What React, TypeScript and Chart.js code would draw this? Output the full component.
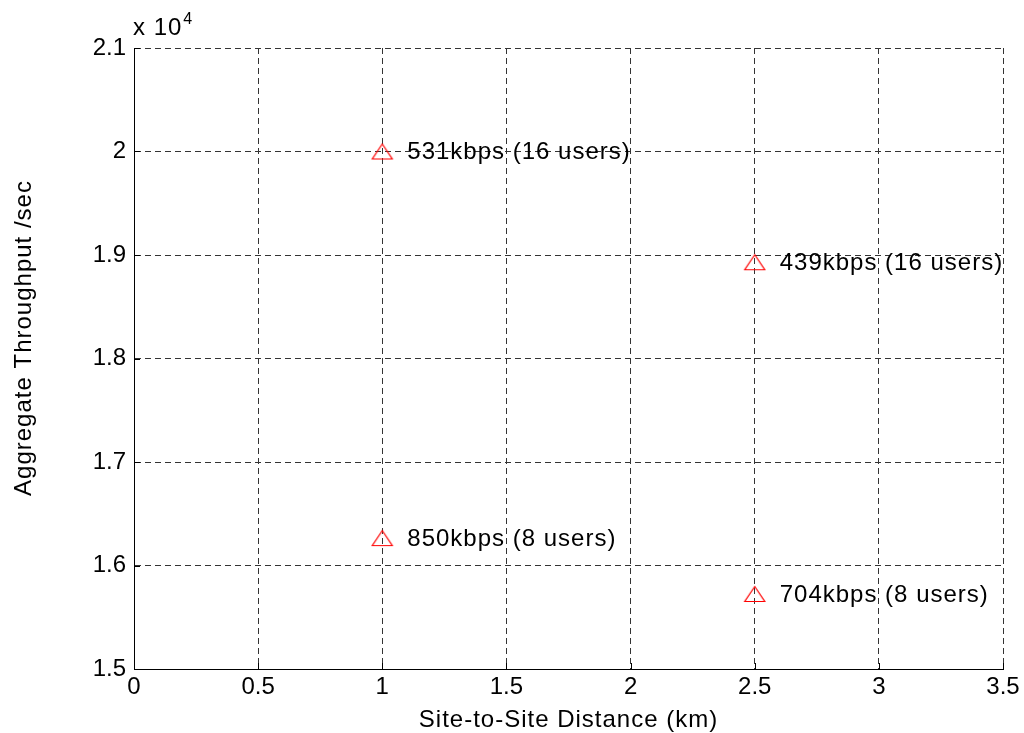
import React, { useEffect, useRef } from "react";
import { Chart, registerables } from "chart.js";

Chart.register(...registerables);

const xValues = [1, 2.5, 1, 2.5];
const yValues = [20000, 18930, 16265, 15725];
const pointLabels = [
  "531kbps (16 users)",
  "439kbps (16 users)",
  "850kbps (8 users)",
  "704kbps (8 users)",
];
const xTitle = "Site-to-Site Distance (km)";
const yTitle = "Aggregate Throughput /sec";
const FONT = '"Liberation Sans", Arial, sans-serif';

function makeTriangle(): HTMLCanvasElement {
  const c = document.createElement("canvas");
  c.width = 24;
  c.height = 18;
  const g = c.getContext("2d")!;
  g.strokeStyle = "#ff0000";
  g.lineWidth = 1.2;
  g.beginPath();
  g.moveTo(12, 1.5);
  g.lineTo(22, 16.5);
  g.lineTo(2, 16.5);
  g.closePath();
  g.stroke();
  return c;
}

const decorPlugin = {
  id: "decor",
  afterDatasetsDraw(chart: any) {
    const ctx = chart.ctx;
    const xs = chart.scales.x;
    const ys = chart.scales.y;
    const area = chart.chartArea;
    ctx.save();
    ctx.strokeStyle = "#000";
    ctx.lineWidth = 1;
    ctx.setLineDash([]);
    ys.ticks.forEach((t: any) => {
      const py = Math.round(ys.getPixelForValue(t.value)) + 0.5;
      ctx.beginPath();
      ctx.moveTo(area.left, py);
      ctx.lineTo(area.left + 6, py);
      ctx.stroke();
    });
    xs.ticks.forEach((t: any) => {
      const px = Math.round(xs.getPixelForValue(t.value)) + 0.5;
      ctx.beginPath();
      ctx.moveTo(px, area.bottom);
      ctx.lineTo(px, area.bottom - 6);
      ctx.stroke();
    });
    ctx.fillStyle = "#000";
    ctx.font = `24px ${FONT}`;
    (ctx as any).letterSpacing = "1px";
    ctx.textAlign = "left";
    ctx.textBaseline = "middle";
    pointLabels.forEach((lab, i) => {
      const px = xs.getPixelForValue(xValues[i]);
      const py = ys.getPixelForValue(yValues[i]);
      ctx.fillText(lab, px + 25, py + 1);
    });
    ctx.textAlign = "center";
    ctx.fillText(xTitle, (area.left + area.right) / 2, 720);
    ctx.save();
    ctx.translate(24, 338);
    ctx.rotate(-Math.PI / 2);
    ctx.fillText(yTitle, 0, 0);
    ctx.restore();
    ctx.textAlign = "left";
    ctx.textBaseline = "alphabetic";
    ctx.fillText("x 10", area.left - 1, 35);
    const w = ctx.measureText("x 10").width;
    ctx.font = `16px ${FONT}`;
    (ctx as any).letterSpacing = "0px";
    ctx.fillText("4", area.left + w, 24);
    ctx.restore();
  },
};

export default function App() {
  const ref = useRef<HTMLCanvasElement>(null);
  useEffect(() => {
    if (!ref.current) return;
    const tri = makeTriangle();
    const chart = new Chart(ref.current, {
      type: "scatter",
      data: {
        datasets: [
          {
            data: xValues.map((x, i) => ({ x, y: yValues[i] })),
            pointStyle: tri as any,
            pointRadius: 11,
            pointHoverRadius: 11,
            borderColor: "#ff0000",
            backgroundColor: "rgba(0,0,0,0)",
            borderWidth: 1,
          },
        ],
      },
      options: {
        responsive: false,
        animation: false,
        events: [],
        layout: { padding: { top: 48, right: 21, left: 0, bottom: 0 } },
        plugins: {
          legend: { display: false },
          tooltip: { enabled: false },
          title: { display: false },
        },
        scales: {
          x: {
            type: "linear",
            min: 0,
            max: 3.5,
            ticks: {
              stepSize: 0.5,
              color: "#000",
              font: { family: FONT, size: 24 },
              padding: 4,
              maxRotation: 0,
              callback: (v: any) => String(v),
            },
            grid: { color: "#333", lineWidth: 1, drawTicks: false },
            border: { display: true, color: "#000", width: 1, dash: [6, 4] },
            afterFit: (s: any) => {
              s.height = 64;
            },
          },
          y: {
            type: "linear",
            min: 15000,
            max: 21000,
            ticks: {
              stepSize: 1000,
              color: "#000",
              font: { family: FONT, size: 24 },
              padding: 8,
              callback: (v: any) => String(Math.round(v / 10) / 1000),
            },
            grid: { color: "#333", lineWidth: 1, drawTicks: false },
            border: { display: true, color: "#000", width: 1, dash: [6, 4] },
            afterFit: (s: any) => {
              s.width = 134;
            },
          },
        },
      },
      plugins: [decorPlugin],
    });
    return () => chart.destroy();
  }, []);
  return (
    <div style={{ position: "absolute", left: 0, top: 0, width: 1024, height: 733, background: "#fff" }}>
      <canvas ref={ref} width={1024} height={733} style={{ display: "block" }} />
    </div>
  );
}
